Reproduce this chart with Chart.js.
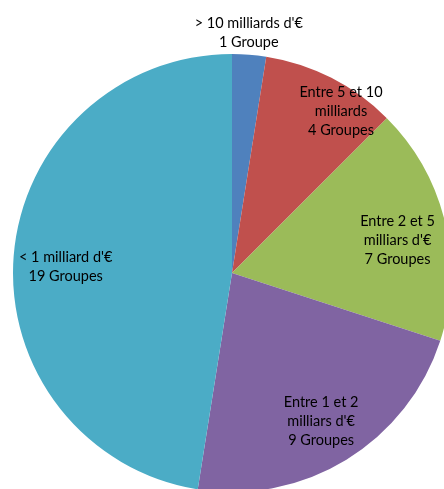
<!DOCTYPE html>
<html>
<head>
<meta charset="utf-8">
<script src="https://cdn.jsdelivr.net/npm/chart.js@4.4.0/dist/chart.umd.min.js"></script>
<style>
  html, body { margin: 0; padding: 0; background: #fff; overflow: hidden; }
  #wrap { width: 444px; height: 489px; position: relative; }
</style>
</head>
<body>
<div id="wrap"><canvas id="pieChart"></canvas></div>
<script>
// groups per turnover band
var categories = [
    ["> 10 milliards d'€", "1 Groupe"],
    ["Entre 5 et 10", "milliards", "4 Groupes"],
    ["Entre 2 et 5", "milliars d'€", "7 Groupes"],
    ["Entre 1 et 2", "milliars d'€", "9 Groupes"],
    ["< 1 milliard d'€", "19 Groupes"]
];
var groupCounts = [1, 4, 7, 9, 19];
var sliceColors = ["#4F81BD", "#C0504D", "#9BBB59", "#8064A2", "#4BACC6"];

// where each label sits: fraction of radius, angle (deg from top, clockwise)
var labelPlace = [[1.10, 4], [0.89, 34], [0.77, 79], [0.79, 149], [0.76, 272]];

var sliceLabels = {
    id: 'sliceLabels',
    afterDatasetsDraw: function (chart) {
        var ctx = chart.ctx;
        var arcs = chart.getDatasetMeta(0).data;
        ctx.save();
        ctx.font = '14.5px Lato, "Open Sans", sans-serif';
        ctx.fillStyle = '#000';
        ctx.textAlign = 'center';
        ctx.textBaseline = 'middle';
        for (var i = 0; i < arcs.length; i++) {
            var a = arcs[i];
            var r = a.outerRadius * labelPlace[i][0];
            var ang = labelPlace[i][1] * Math.PI / 180;
            var x = a.x + r * Math.sin(ang);
            var y = a.y - r * Math.cos(ang);
            var lines = categories[i];
            var lh = 19;
            var y0 = y - (lines.length - 1) * lh / 2;
            for (var j = 0; j < lines.length; j++) {
                ctx.fillText(lines[j], x, y0 + j * lh);
            }
        }
        ctx.restore();
    }
};

new Chart("pieChart", {
    type: "pie",
    data: {
        labels: categories,
        datasets: [{
            data: groupCounts,
            backgroundColor: sliceColors,
            borderWidth: 0
        }]
    },
    options: {
        responsive: true,
        maintainAspectRatio: false,
        animation: false,
        radius: 219,
        layout: { padding: { left: 20, top: 57 } },
        plugins: {
            legend: { display: false },
            tooltip: { enabled: false }
        }
    },
    plugins: [sliceLabels]
});
</script>
</body>
</html>
